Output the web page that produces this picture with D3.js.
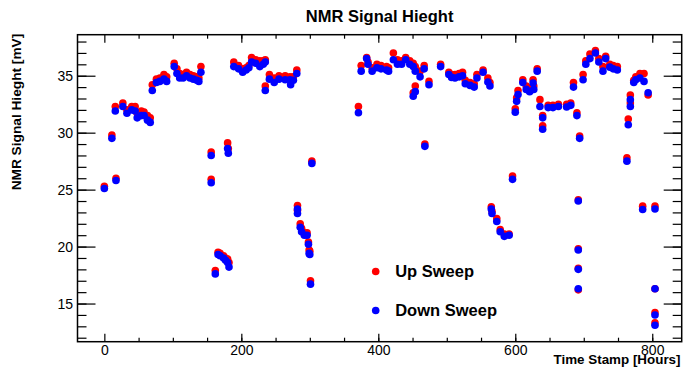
<!DOCTYPE html>
<html>
<head>
<meta charset="utf-8">
<script src="https://cdn.jsdelivr.net/npm/d3@7"></script>
<style>
  body { margin: 0; background: #fff; }
  svg { display: block; font-family: "Liberation Sans", Arial, sans-serif; }
</style>
</head>
<body>
<script>
const SVG_WIDTH = 683;
const SVG_HEIGHT = 368;
const MARGIN = {TOP: 34.7, BOTTOM: 26.3, RIGHT: 1.3, LEFT: 77.5};
const WIDTH = SVG_WIDTH - MARGIN.LEFT - MARGIN.RIGHT;
const HEIGHT = SVG_HEIGHT - MARGIN.TOP - MARGIN.BOTTOM;

// time stamps [hours]
var timeStamp = [
  0, 11, 16, 17, 27, 33, 40, 45, 48, 54, 58, 63, 67, 70, 76, 81, 87, 91,
  102, 106, 110, 115, 120, 125, 130, 135, 138, 141, 156, 156, 162, 166, 169, 174,
  177, 180, 180, 181, 182, 189, 196, 202, 207, 211, 215, 221, 227, 232, 235, 235,
  241, 248, 255, 264, 271, 272, 276, 281, 282, 282, 286, 288, 292, 296, 298, 299,
  300, 301, 303, 371, 375, 383, 385, 391, 398, 404, 412, 415, 422, 428, 434, 440,
  446, 451, 451, 454, 454, 461, 467, 468, 474, 491, 503, 507, 512, 518, 523, 527,
  534, 540, 544, 553, 560, 563, 565, 566, 573, 578, 584, 591, 596, 600, 602, 604,
  611, 616, 621, 626, 627, 632, 636, 640, 640, 648, 655, 663, 675, 681, 685, 690,
  692, 692, 692, 692, 694, 699, 703, 709, 717, 722, 728, 732, 738, 743, 749, 763,
  765, 768, 768, 773, 776, 782, 786, 788, 794, 804, 804, 804, 804
];

// signal height [mV], up sweep
var upSweep = [
  25.3, 29.8, 32.3, 26.0, 32.6, 32.0, 32.3, 32.3, 31.7, 31.9, 31.8, 31.5, 31.3, 34.2, 34.7, 34.8, 35.1, 34.9,
  36.1, 35.6, 35.2, 35.1, 35.3, 35.1, 35.0, 34.9, 34.8, 35.8, 28.3, 25.9, 17.9, 19.5, 19.4, 19.2,
  19.0, 29.1, 18.9, 28.6, 18.6, 36.2, 35.9, 35.6, 35.7, 35.9, 36.6, 36.4, 36.3, 36.3, 36.4, 34.1,
  35.1, 34.8, 35.0, 35.0, 34.9, 34.6, 34.9, 35.5, 23.6, 23.2, 22.0, 21.6, 21.2, 21.2, 20.4, 19.7,
  19.6, 17.0, 27.5, 32.3, 35.9, 36.6, 36.2, 35.7, 36.0, 35.9, 35.8, 35.7, 37.0, 36.4, 36.3, 36.6,
  36.3, 36.1, 33.5, 35.8, 34.1, 35.4, 35.9, 29.0, 34.5, 36.0, 35.3, 35.1, 35.1, 35.2, 35.3, 34.6,
  34.4, 34.3, 35.1, 35.5, 34.8, 34.4, 23.5, 23.1, 22.45, 21.5, 21.1, 21.1, 26.2, 32.1, 33.05, 33.7,
  34.65, 34.1, 33.9, 34.65, 34.1, 35.6, 32.9, 31.5, 30.6, 32.4, 32.4, 32.5, 32.5, 32.6, 34.4, 31.75,
  24.1, 19.8, 18.1, 16.2, 29.7, 35.1, 36.3, 36.9, 37.2, 36.5, 35.8, 36.7, 36.0, 35.9, 35.8, 27.8,
  31.2, 33.3, 32.6, 34.6, 34.9, 35.2, 23.55, 35.2, 33.3, 23.55, 16.3, 14.2, 13.3
];

// signal height [mV], down sweep
var downSweep = [
  25.1, 29.5, 31.9, 25.8, 32.3, 31.7, 32.0, 31.9, 31.3, 31.5, 31.5, 31.1, 30.9, 33.7, 34.4, 34.5, 34.7, 34.5,
  35.8, 35.2, 34.8, 34.8, 35.0, 34.8, 34.7, 34.6, 34.5, 35.3, 28.0, 25.6, 17.6, 19.3, 19.2, 19.0,
  18.8, 28.6, 18.6, 28.2, 18.2, 35.8, 35.6, 35.3, 35.5, 35.7, 36.2, 36.1, 35.8, 36.0, 36.2, 33.7,
  34.7, 34.4, 34.7, 34.65, 34.65, 34.2, 34.6, 35.2, 23.3, 22.9, 21.7, 21.3, 21.0, 21.0, 20.2, 19.4,
  19.3, 16.7, 27.3, 31.75, 35.4, 36.5, 36.0, 35.4, 35.7, 35.6, 35.5, 35.4, 36.4, 36.0, 36.0, 36.4,
  36.0, 35.8, 33.2, 35.4, 33.6, 34.9, 35.6, 28.8, 34.2, 35.8, 35.1, 34.85, 34.8, 34.9, 35.0, 34.3,
  34.15, 34.0, 34.8, 35.3, 34.45, 34.1, 23.3, 22.9, 22.2, 21.3, 20.9, 21.0, 25.9, 31.8, 32.75, 33.35,
  34.4, 33.8, 33.6, 34.35, 33.8, 35.4, 32.3, 31.3, 30.3, 32.2, 32.2, 32.3, 32.25, 32.4, 34.0, 31.5,
  24.0, 19.7, 18.0, 16.3, 29.5, 34.65, 36.0, 36.5, 37.0, 36.2, 35.4, 36.5, 35.75, 35.6, 35.5, 27.5,
  30.7, 32.9, 32.3, 34.4, 34.65, 34.8, 23.25, 34.5, 33.5, 23.3, 16.3, 14.0, 13.1
];

var xMajor = [0, 200, 400, 600, 800];
var xMinor = d3.range(50, 850, 50);
var yMajor = [15, 20, 25, 30, 35];
var yMinor = d3.range(12, 39, 1);

var legendItems = ["Up Sweep", "Down Sweep"];
var seriesColors = ["#ff0000", "#0000ff"];

var svg = d3.select("body").append("svg")
    .attr("width", SVG_WIDTH)
    .attr("height", SVG_HEIGHT);

var g = svg.append("g")
    .attr("transform", "translate(" + MARGIN.LEFT + "," + MARGIN.TOP + ")");

var xScale = d3.scaleLinear()
    .domain([-39.2, 843])
    .range([0, WIDTH]);

var yScale = d3.scaleLinear()
    .domain([11.65, 38.6])
    .range([HEIGHT, 0]);

// ticks point inward, like ROOT
function drawAxis(axis, tx, ty, labels) {
    var a = g.append("g")
        .attr("transform", "translate(" + tx + "," + ty + ")")
        .call(axis);
    a.select(".domain").remove();
    a.selectAll("line").attr("stroke", "#000").attr("stroke-width", 1.2);
    a.selectAll("text").attr("font-size", 14).attr("fill", "#000")
        .attr("font-family", "'Liberation Sans', Arial, sans-serif");
    if (!labels) a.selectAll("text").remove();
}

drawAxis(d3.axisBottom(xScale).tickValues(xMajor).tickSize(-8).tickPadding(3.5), 0, HEIGHT, true);
drawAxis(d3.axisBottom(xScale).tickValues(xMinor).tickSize(-4), 0, HEIGHT, false);
drawAxis(d3.axisTop(xScale).tickValues(xMajor).tickSize(-8), 0, 0, false);
drawAxis(d3.axisTop(xScale).tickValues(xMinor).tickSize(-4), 0, 0, false);
drawAxis(d3.axisLeft(yScale).tickValues(yMajor).tickSize(-18).tickPadding(4.5), 0, 0, true);
drawAxis(d3.axisLeft(yScale).tickValues(yMinor).tickSize(-9), 0, 0, false);
drawAxis(d3.axisRight(yScale).tickValues(yMajor).tickSize(-18), WIDTH, 0, false);
drawAxis(d3.axisRight(yScale).tickValues(yMinor).tickSize(-9), WIDTH, 0, false);

// frame
g.append("rect")
    .attr("width", WIDTH)
    .attr("height", HEIGHT)
    .attr("fill", "none")
    .attr("stroke", "#000")
    .attr("stroke-width", 1.5);

// red graph first, blue drawn over it
[upSweep, downSweep].forEach(function(series, i) {
    g.append("g").selectAll("circle")
        .data(series)
        .enter().append("circle")
            .attr("cx", function(d, j) { return xScale(timeStamp[j]); })
            .attr("cy", function(d) { return yScale(d); })
            .attr("r", 3.8)
            .attr("fill", seriesColors[i]);
});

// legend
var legend = svg.append("g").selectAll("g")
    .data(legendItems)
    .enter().append("g")
        .attr("transform", function(d, i) { return "translate(375.7," + (271.5 + i * 39) + ")"; });

legend.append("circle")
    .attr("r", 3.8)
    .attr("fill", function(d, i) { return seriesColors[i]; });

legend.append("text")
    .attr("x", 19.5)
    .attr("y", 5.8)
    .attr("font-size", 16.5)
    .attr("font-weight", "bold")
    .text(function(d) { return d; });

// titles
svg.append("text")
    .attr("x", MARGIN.LEFT + WIDTH / 2)
    .attr("y", 21.5)
    .attr("text-anchor", "middle")
    .attr("font-size", 16.5)
    .attr("font-weight", "bold")
    .text("NMR Signal Hieght");

svg.append("text")
    .attr("transform", "translate(20.5," + (MARGIN.TOP - 1) + ") rotate(-90)")
    .attr("text-anchor", "end")
    .attr("font-size", 13.7)
    .attr("font-weight", "bold")
    .text("NMR Signal Hieght [mV]");

svg.append("text")
    .attr("x", 680.5)
    .attr("y", 364)
    .attr("text-anchor", "end")
    .attr("font-size", 13.4)
    .attr("font-weight", "bold")
    .text("Time Stamp [Hours]");
</script>
</body>
</html>
